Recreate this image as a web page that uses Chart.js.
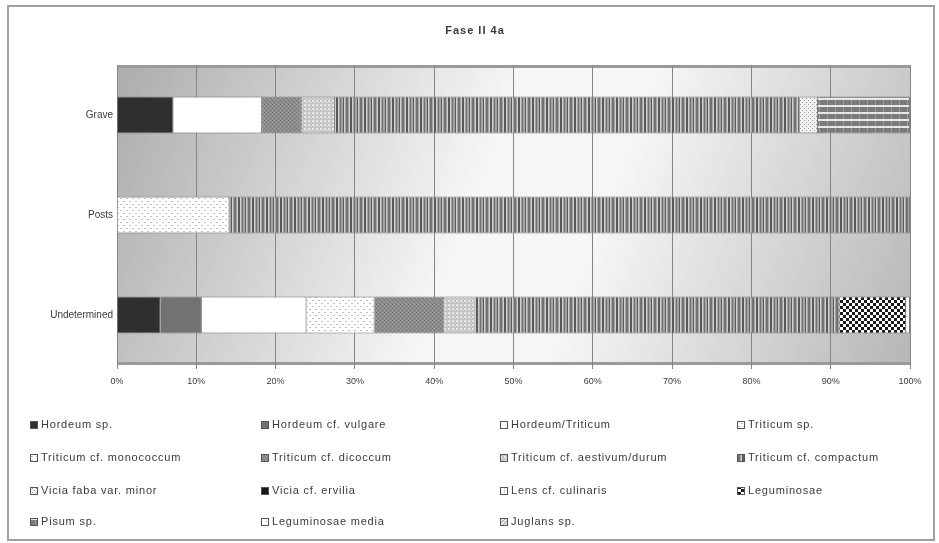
<!DOCTYPE html>
<html>
<head>
<meta charset="utf-8">
<script src="https://cdn.jsdelivr.net/npm/chart.js@4.4.1/dist/chart.umd.min.js"></script>
<style>
  html, body { margin: 0; padding: 0; background: #ffffff; }
  #wrap { width: 939px; height: 543px; }
</style>
</head>
<body>
<div id="wrap"><canvas id="c" width="939" height="543"></canvas></div>
<script>
// Feature types (bars, top to bottom)
const categories = ['Grave', 'Posts', 'Undetermined'];
const chartTitle = 'Fase II 4a';
const tickLabels = ['0%', '10%', '20%', '30%', '40%', '50%', '60%', '70%', '80%', '90%', '100%'];

// Share of each taxon per feature type (%)
const taxa = [
  'Hordeum sp.', 'Hordeum cf. vulgare', 'Hordeum/Triticum', 'Triticum sp.',
  'Triticum cf. monococcum', 'Triticum cf. dicoccum', 'Triticum cf. aestivum/durum', 'Triticum cf. compactum',
  'Vicia faba var. minor', 'Vicia cf. ervilia', 'Lens cf. culinaris', 'Leguminosae',
  'Pisum sp.', 'Leguminosae media', 'Juglans sp.'
];
const hordeumSp        = [7.1, 0, 5.5];
const hordeumVulgare   = [0, 0, 5.2];
const hordeumTriticum  = [11.2, 0, 13.2];
const triticumSp       = [0, 14.2, 8.6];
const triticumMonococ  = [0, 0, 0];
const triticumDicoccum = [5.0, 0, 8.8];
const triticumAestDur  = [4.2, 0, 3.8];
const triticumCompact  = [58.6, 85.8, 46.0];
const viciaFaba        = [2.3, 0, 0];
const viciaErvilia     = [0, 0, 0];
const lensCulinaris    = [0, 0, 0];
const leguminosae      = [0, 0, 8.4];
const pisumSp          = [11.6, 0, 0];
const legumMedia       = [0, 0, 0.5];
const juglansSp        = [0, 0, 0];

const seriesValues = [
  hordeumSp, hordeumVulgare, hordeumTriticum, triticumSp,
  triticumMonococ, triticumDicoccum, triticumAestDur, triticumCompact,
  viciaFaba, viciaErvilia, lensCulinaris, leguminosae,
  pisumSp, legumMedia, juglansSp
];

// ---- fill patterns (monochrome print style) ----
function tile(w, h, painter) {
  const cv = document.createElement('canvas');
  cv.width = w; cv.height = h;
  const g = cv.getContext('2d');
  painter(g, w, h);
  return document.getElementById('c').getContext('2d').createPattern(cv, 'repeat');
}
const fills = [
  '#2f2f2f',
  '#727272',
  '#ffffff',
  tile(6, 6, (g) => { g.fillStyle = '#ffffff'; g.fillRect(0, 0, 6, 6); g.fillStyle = '#c0c0c0'; g.fillRect(0, 0, 2, 1); g.fillRect(3, 3, 2, 1); }),
  tile(6, 4, (g) => { g.fillStyle = '#ffffff'; g.fillRect(0, 0, 6, 4); g.fillStyle = '#c4c4c4'; g.fillRect(0, 0, 3, 1); }),
  tile(4, 4, (g) => { g.fillStyle = '#8c8c8c'; g.fillRect(0, 0, 4, 4); g.fillStyle = '#747474'; g.fillRect(0, 0, 1, 1); g.fillRect(2, 2, 1, 1); g.fillStyle = '#a2a2a2'; g.fillRect(2, 0, 1, 1); g.fillRect(0, 2, 1, 1); }),
  tile(4, 4, (g) => { g.fillStyle = '#c4c4c4'; g.fillRect(0, 0, 4, 4); g.fillStyle = '#e8e8e8'; g.fillRect(0, 0, 2, 2); g.fillRect(2, 2, 1, 1); }),
  tile(14, 4, (g) => {
    g.fillStyle = '#a4a4a4'; g.fillRect(0, 0, 14, 4);
    g.fillStyle = '#5a5a5a'; g.fillRect(0, 0, 2, 4); g.fillRect(7, 0, 1, 4);
    g.fillStyle = '#727272'; g.fillRect(4, 0, 1, 4); g.fillRect(10, 0, 2, 4);
    g.fillStyle = '#cfcfcf'; g.fillRect(2, 0, 1, 4); g.fillRect(8, 0, 1, 4); g.fillRect(13, 0, 1, 4);
  }),
  tile(4, 4, (g) => { g.fillStyle = '#f2f2f2'; g.fillRect(0, 0, 4, 4); g.fillStyle = '#9a9a9a'; g.fillRect(0, 0, 1, 1); g.fillRect(2, 2, 1, 1); }),
  '#151515',
  tile(4, 4, (g) => { g.fillStyle = '#ffffff'; g.fillRect(0, 0, 4, 4); g.fillStyle = '#d0d0d0'; g.fillRect(0, 0, 1, 4); }),
  tile(6, 6, (g) => { g.fillStyle = '#ffffff'; g.fillRect(0, 0, 6, 6); g.fillStyle = '#1a1a1a'; g.fillRect(0, 0, 3, 3); g.fillRect(3, 3, 3, 3); }),
  tile(8, 7, (g) => { g.fillStyle = '#7a7a7a'; g.fillRect(0, 0, 8, 7); g.fillStyle = '#e8e8e8'; g.fillRect(0, 0, 8, 2); g.fillStyle = '#9c9c9c'; g.fillRect(3, 2, 1, 5); }),
  tile(5, 5, (g) => { g.fillStyle = '#ffffff'; g.fillRect(0, 0, 5, 5); g.fillStyle = '#bdbdbd'; g.fillRect(1, 1, 1, 1); }),
  tile(4, 4, (g) => { g.fillStyle = '#e6e6e6'; g.fillRect(0, 0, 4, 4); g.fillStyle = '#a0a0a0'; g.fillRect(0, 3, 1, 1); g.fillRect(1, 2, 1, 1); g.fillRect(2, 1, 1, 1); g.fillRect(3, 0, 1, 1); })
];

const datasets = taxa.map((name, i) => ({
  label: name,
  data: seriesValues[i],
  backgroundColor: fills[i],
  borderColor: '#7c7c7c',
  borderWidth: 1,
  categoryPercentage: 1.0,
  barPercentage: 0.37
}));

const FONT = '"Liberation Sans", Arial, sans-serif';

// Plot-area gradient, outer frame, title and the four-column legend
const decor = {
  id: 'decor',
  beforeDraw(chart) {
    const { ctx, chartArea: a } = chart;
    ctx.save();
    ctx.fillStyle = '#ffffff';
    ctx.fillRect(0, 0, chart.width, chart.height);
    const gr = ctx.createLinearGradient(a.left, a.top, a.right, a.bottom);
    gr.addColorStop(0, '#acacac');
    gr.addColorStop(0.45, '#f6f6f6');
    gr.addColorStop(0.6, '#f6f6f6');
    gr.addColorStop(1, '#b6b6b6');
    ctx.fillStyle = gr;
    ctx.fillRect(a.left, a.top, a.right - a.left, a.bottom - a.top);
    ctx.fillStyle = '#9a9a9a';
    ctx.fillRect(a.left, a.top, a.right - a.left, 3);
    ctx.fillRect(a.left, a.bottom - 3, a.right - a.left, 3);
    ctx.restore();
  },
  afterDraw(chart) {
    const { ctx } = chart;
    ctx.save();
    // frame
    ctx.strokeStyle = '#a0a0a0';
    ctx.lineWidth = 2;
    ctx.strokeRect(8, 6, 926, 534);
    // title
    ctx.fillStyle = '#3a3a3a';
    ctx.font = 'bold 11px ' + FONT;
    ctx.letterSpacing = '1px';
    ctx.textAlign = 'center';
    ctx.textBaseline = 'middle';
    ctx.fillText(chartTitle, 475, 31);
    // legend
    const colX = [30, 261, 500, 737];
    const rowY = [425, 458, 491, 522];
    ctx.font = '11px ' + FONT;
    ctx.letterSpacing = '0.8px';
    ctx.textAlign = 'left';
    chart.data.datasets.forEach((ds, i) => {
      const x = colX[i % 4], y = rowY[Math.floor(i / 4)];
      ctx.fillStyle = ds.backgroundColor;
      ctx.fillRect(x, y - 4, 8, 8);
      ctx.strokeStyle = '#555555';
      ctx.lineWidth = 1;
      ctx.strokeRect(x + 0.5, y - 3.5, 7, 7);
      ctx.fillStyle = '#3a3a3a';
      ctx.fillText(ds.label, x + 11, y);
    });
    ctx.restore();
  }
};

new Chart(document.getElementById('c'), {
  type: 'bar',
  data: { labels: categories, datasets },
  options: {
    responsive: false,
    animation: false,
    indexAxis: 'y',
    layout: { padding: { left: 0, top: 65, right: 29, bottom: 150 } },
    plugins: { legend: { display: false }, title: { display: false }, tooltip: { enabled: false } },
    scales: {
      x: {
        stacked: true,
        min: 0,
        max: 100,
        afterFit(s) { s.height = 28; },
        afterBuildTicks(s) { s.ticks = tickLabels.map((_, i) => ({ value: i * 10 })); },
        ticks: {
          callback: (v, i) => tickLabels[i],
          color: '#3a3a3a',
          font: { family: FONT, size: 9 },
          padding: 7,
          maxRotation: 0
        },
        grid: { color: '#858585', lineWidth: 1, drawTicks: true, tickLength: 4, tickColor: '#858585' },
        border: { display: false }
      },
      y: {
        stacked: true,
        afterFit(s) { s.width = 117; },
        ticks: { color: '#3a3a3a', font: { family: FONT, size: 10 }, padding: 4 },
        grid: { display: false, drawTicks: false },
        border: { display: false }
      }
    }
  },
  plugins: [decor]
});
</script>
</body>
</html>
